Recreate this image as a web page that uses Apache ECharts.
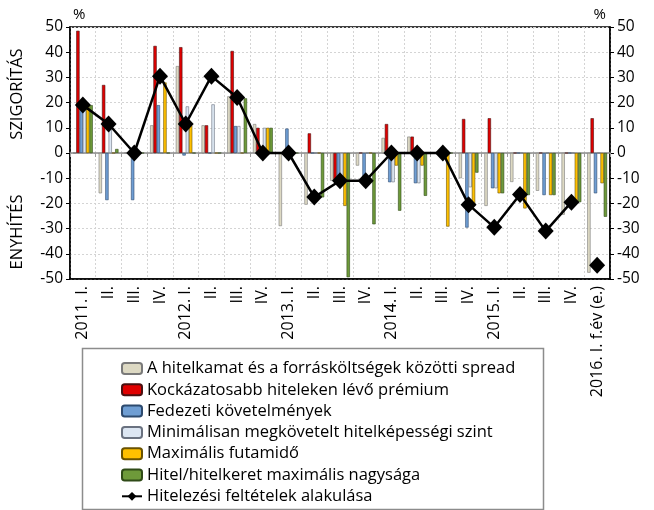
<!DOCTYPE html>
<html>
<head>
<meta charset="utf-8">
<script src="https://cdn.jsdelivr.net/npm/echarts@6/dist/echarts.min.js"></script>
<style>html,body{margin:0;padding:0;background:#fff}#c{width:654px;height:510px}</style>
</head>
<body>
<div id="c"></div>
<script>
const categories = ['2011. I.','II.','III.','IV.','2012. I.','II.','III.','IV.','2013. I.','II.','III.','IV.','2014. I.','II.','III.','IV.','2015. I.','II.','III.','IV.','2016. I. f.év (e.)'];
const yTicks = [-50,-40,-30,-20,-10,0,10,20,30,40,50];
const spread      = [0,-16,0,11,34.5,11,22.5,11.5,-29,-20.5,-11,-5,6,6.5,0,-10,-21,-11.5,-15,-24.5,-47.5];
const riskPremium = [48.5,27,0,42.5,42,11,40.5,10,0,7.8,-11,0,11.5,6.5,0,13.5,13.8,0,0,0,13.8];
const collateral  = [17,-18.7,-18.7,19,-1,0,10.7,0,9.7,0,-11.5,-11.5,-11.6,-12,0,-29.6,-14,0,-16.7,0,-16];
const minCredit   = [18,10,0,0,18.5,19.3,10.7,10,0,0,-11,0,-11.6,-12,0,-13.6,-14,0,0,0,0];
const maxMaturity = [19,0,0,28,11,0,0,10,0,0,-21,0,-5,-5,-29.2,-21,-16,-22,-16.7,-19.5,-12];
const maxLoan     = [19,1.6,0,0,0,0,21.7,10,0,-17.6,-49.3,-28.3,-22.9,-17,0,-7.8,-16,-16.7,-16.7,-19.5,-25.3];
const creditConditions = [19,11.5,0,30.5,11.5,30.5,22,0,0,-17.5,-11,-11,0,0,0,-20.5,-29.5,-16.5,-31,-19.5,-44.5];

const seriesNames = ['A hitelkamat és a forrásköltségek közötti spread','Kockázatosabb hiteleken lévő prémium','Fedezeti követelmények','Minimálisan megkövetelt hitelképességi szint','Maximális futamidő','Hitel/hitelkeret maximális nagysága','Hitelezési feltételek alakulása'];
const barData = [spread, riskPremium, collateral, minCredit, maxMaturity, maxLoan];
const barColors = ['#DDD9C3','#E00000','#6F9ED3','#DCE6F2','#FFC000','#6E9A3A'];
const barBorders = ['#7a7a7a','#4a1010','#2d4a6e','#6a7280','#6a5200','#2f4a17'];

const FONT = '"Open Sans", "Liberation Sans", sans-serif';
const chart = echarts.init(document.getElementById('c'), null, {renderer:'canvas'});

const series = barData.map((d,i)=>({
  name: seriesNames[i], type:'bar', data:d, barWidth:3.3, barGap:'0%',
  itemStyle:{color:barColors[i], borderColor:barBorders[i], borderWidth:0.6},
  z:2
}));
const lastIdx = creditConditions.length-1;
series.push({
  name: seriesNames[6], type:'line', data: creditConditions.map((v,i)=> i===lastIdx ? '-' : v),
  symbol:'diamond', symbolSize:[16,17], lineStyle:{color:'#000',width:2.5}, itemStyle:{color:'#000'},
  z:5, xAxisIndex:0
});
series.push({
  name: seriesNames[6], type:'line', data: creditConditions.map((v,i)=> i===lastIdx ? v : '-'),
  symbol:'diamond', symbolSize:[16,17], lineStyle:{color:'#000',width:2.5}, itemStyle:{color:'#000'},
  z:5, xAxisIndex:0
});

const yAxisCommon = {
  type:'value', min:yTicks[0], max:yTicks[yTicks.length-1], interval:10,
  axisLine:{show:true, lineStyle:{color:'#000', width:1.5}},
  axisTick:{show:true, length:4, lineStyle:{color:'#000'}},
  axisLabel:{color:'#000', fontSize:15.5, fontFamily:FONT, margin:7},
  name:'%', nameGap:5,
  nameTextStyle:{color:'#000', fontSize:15, fontFamily:FONT}
};

chart.setOption({
  animation:false,
  textStyle:{fontFamily:FONT},
  grid:{left:70, right:44, top:27, bottom:231, show:true, borderColor:'#000', borderWidth:1.5, containLabel:false},
  legend:{
    data: seriesNames, orient:'vertical', left:116, top:355, itemGap:4.3,
    itemWidth:20, itemHeight:11,
    textStyle:{color:'#000', fontSize:16.5, fontFamily:FONT, lineHeight:17}
  },
  xAxis:[
    {type:'category', data:categories, position:'bottom',
     axisLine:{onZero:false, show:true, lineStyle:{color:'#000', width:1.5}},
     axisTick:{show:false},
     splitLine:{show:true, interval:0, lineStyle:{color:'#d4d4d4', type:[2,2], width:1}},
     axisLabel:{interval:0, rotate:90, color:'#000', fontSize:16, fontFamily:FONT, margin:7}
    },
    {type:'category', data:categories, position:'bottom',
     axisLine:{onZero:true, show:true, lineStyle:{color:'#8c8c8c', width:1.5}},
     axisTick:{show:true, interval:0, length:4, lineStyle:{color:'#9a9a9a'}},
     axisLabel:{show:false}, splitLine:{show:false}
    }
  ],
  yAxis:[
    Object.assign({}, yAxisCommon, {position:'left',
      splitLine:{show:true, lineStyle:{color:'#d4d4d4', type:[2,2], width:1}},
      nameTextStyle:Object.assign({}, yAxisCommon.nameTextStyle, {align:'left', padding:[0,0,0,3]})}),
    Object.assign({}, yAxisCommon, {position:'right', splitLine:{show:false},
      nameTextStyle:Object.assign({}, yAxisCommon.nameTextStyle, {align:'right', padding:[0,4,0,0]})})
  ],
  graphic:[
    {type:'rect', left:80, top:346, shape:{width:461, height:161}, style:{fill:'none', stroke:'#8c8c8c', lineWidth:1.5}, z:-1},
    {type:'text', x:17, y:94, rotation:Math.PI/2, style:{text:'SZIGORÍTÁS', font:'16.5px '+FONT, fill:'#000', align:'center', verticalAlign:'middle'}},
    {type:'text', x:17, y:232, rotation:Math.PI/2, style:{text:'ENYHÍTÉS', font:'16.5px '+FONT, fill:'#000', align:'center', verticalAlign:'middle'}}
  ],
  series: series
});
</script>
</body>
</html>
